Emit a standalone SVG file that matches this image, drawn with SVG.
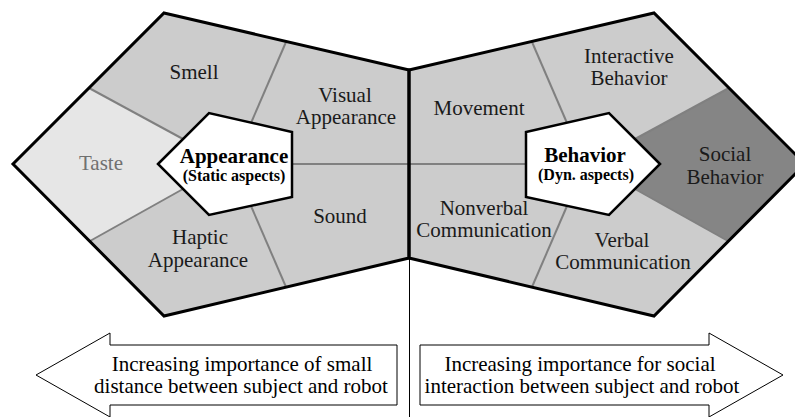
<svg xmlns="http://www.w3.org/2000/svg" width="795" height="417" viewBox="0 0 795 417">
<style>
.region{fill:#cccccc;stroke:none}
.outline{fill:none;stroke:#000;stroke-width:3;stroke-linejoin:miter}
.div{stroke:#808080;stroke-width:2;fill:none}
.core{fill:#fff;stroke:#000;stroke-width:2.5}
text{font-family:'Liberation Serif','Times New Roman',Times,serif;text-anchor:middle}
.lbl{font-size:21px;fill:#1a1a1a}
.big{font-weight:bold;font-size:21px;fill:#000}
.small{font-weight:bold;font-size:16px;fill:#000}
.arrow{fill:#fff;stroke:#000;stroke-width:1}
</style>
<rect width="795" height="417" fill="#fff"/>

<g id="appearance-side">
  <polygon class="region" points="164,13 409,70 409,258 164,316 13,164"/>
  <polygon id="taste-region" points="89,88 13,164 90,241 183,189 158,164 183,139" fill="#e6e6e6"/>
</g>
<g id="behavior-side">
  <polygon class="region" points="409,70 654,13 805,164 654,316 409,258"/>
  <polygon id="social-region" points="729,88 805,164 728,241 635,189 660,164 635,139" fill="#858585"/>
</g>

<g id="dividers">
  <line class="div" x1="89" y1="88" x2="183" y2="139"/>
  <line class="div" x1="90" y1="241" x2="183" y2="189"/>
  <line class="div" x1="286" y1="42" x2="251" y2="123"/>
  <line class="div" x1="251" y1="206" x2="286" y2="287"/>
  <line class="div" x1="292" y1="164" x2="526" y2="164"/>
  <line class="div" x1="532" y1="42" x2="567" y2="123"/>
  <line class="div" x1="567" y1="206" x2="532" y2="287"/>
  <line class="div" x1="729" y1="88" x2="635" y2="139"/>
  <line class="div" x1="728" y1="241" x2="635" y2="189"/>
  <line stroke="#000" stroke-width="1" x1="409.5" y1="258" x2="409.5" y2="417"/>
</g>

<g id="outlines">
  <polygon class="outline" points="164,13 409,70 409,258 164,316 13,164"/>
  <polygon class="outline" points="409,70 654,13 805,164 654,316 409,258"/>
</g>

<g font-family="Liberation Serif, serif">
<g id="smell"><text class="lbl" x="194" y="79">Smell</text></g>
<g id="visual-appearance"><text class="lbl" x="345" y="102">Visual</text><text class="lbl" x="346" y="124">Appearance</text></g>
<g id="taste"><text class="lbl" x="101" y="170" style="fill:#707070">Taste</text></g>
<g id="sound"><text class="lbl" x="340" y="223">Sound</text></g>
<g id="haptic-appearance"><text class="lbl" x="200" y="244">Haptic</text><text class="lbl" x="198" y="267">Appearance</text></g>

<g id="movement"><text class="lbl" x="479" y="115">Movement</text></g>
<g id="interactive-behavior"><text class="lbl" x="629" y="63">Interactive</text><text class="lbl" x="629" y="85">Behavior</text></g>
<g id="social-behavior"><text class="lbl" x="725" y="161">Social</text><text class="lbl" x="725" y="184">Behavior</text></g>
<g id="nonverbal-communication"><text class="lbl" x="484" y="215">Nonverbal</text><text class="lbl" x="484" y="237">Communication</text></g>
<g id="verbal-communication"><text class="lbl" x="622" y="247">Verbal</text><text class="lbl" x="623" y="269">Communication</text></g>

<g id="appearance-core">
  <polygon class="core" points="158,164 209,113 292,132 292,197 209,215"/>
  <text class="big" x="234" y="163">Appearance</text>
  <text class="small" x="234" y="181">(Static aspects)</text>
</g>
<g id="behavior-core">
  <polygon class="core" points="660,164 609,113 526,132 526,197 609,215"/>
  <text class="big" x="585" y="162">Behavior</text>
  <text class="small" x="586" y="180">(Dyn. aspects)</text>
</g>

<g id="arrow-left">
  <polygon class="arrow" points="36,375 110,333 110,345 397,345 397,405 110,405 110,417"/>
  <text class="lbl" x="242" y="371" style="fill:#000">Increasing importance of small</text>
  <text class="lbl" x="241" y="393" style="fill:#000">distance between subject and robot</text>
</g>
<g id="arrow-right">
  <polygon class="arrow" points="783,375 709,333 709,345 420,345 420,405 709,405 709,417"/>
  <text class="lbl" x="580" y="371" style="fill:#000">Increasing importance for social</text>
  <text class="lbl" x="582" y="393" style="fill:#000">interaction between subject and robot</text>
</g>
</g>
</svg>
